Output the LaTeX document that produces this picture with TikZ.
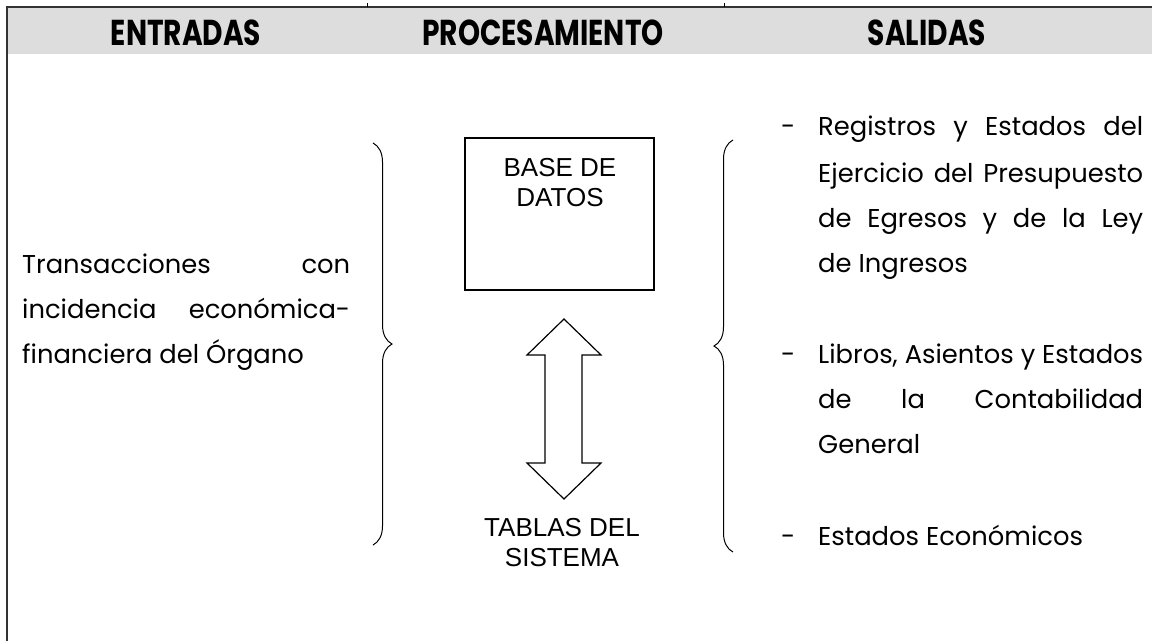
\documentclass[tikz,border=0pt]{standalone}
\usepackage{fontspec}
\setmainfont{Poppins}
\newfontfamily\boxfont{Liberation Sans}
\newfontfamily\headfont[FakeStretch=0.78]{Poppins}
\usetikzlibrary{decorations.pathreplacing}
\definecolor{headgray}{HTML}{DDDDDD}
\begin{document}
\begin{tikzpicture}[x=1pt,y=-1pt,
  bodytext/.style={anchor=base west,inner sep=0pt,font=\fontsize{25.8}{30}\selectfont},
  headtext/.style={anchor=base,inner sep=0pt,font=\headfont\bfseries\fontsize{36}{40}\selectfont},
  boxtext/.style={anchor=base,inner sep=0pt,align=center,font=\boxfont\fontsize{26}{30}\selectfont},
  bracestyle/.style={decorate,decoration={brace,amplitude=19pt,aspect=0.5},line width=1pt},
  frame/.style={line width=1.5pt,black!80}
]
\useasboundingbox (0,0) rectangle (1152,641);
% header band and frame
\fill[headgray] (7,8) rectangle (1152,54);
\draw[frame] (7,641) -- (7,7) -- (1152,7);
\draw[line width=0.8pt] (367,3) -- (367,7);
\draw[line width=0.8pt] (724,3) -- (724,7);
\node[headtext] (hin) at (186,45) {ENTRADAS};
\node[headtext] (hproc) at (543,45) {PROCESAMIENTO};
\node[headtext] (hout) at (927,45) {SALIDAS};
% inputs
\node[bodytext] (in1) at (22,273) {\makebox[328pt][s]{Transacciones con}};
\node[bodytext] (in2) at (22,318) {\makebox[328pt][s]{incidencia económica-}};
\node[bodytext] (in3) at (22,363) {financiera del Órgano};
% braces
\coordinate (lbt) at (373,143);
\coordinate (lbb) at (373,545);
\draw[bracestyle] (lbt) -- (lbb);
\coordinate (rbt) at (733,140);
\coordinate (rbb) at (733,552);
\draw[bracestyle] (rbb) -- (rbt);
% processing
\node[draw,line width=1.3pt,minimum width=189pt,minimum height=152pt,inner sep=0pt] (db) at (559.5,214) {};
\node[boxtext] (dbt1) at (560,176) {BASE DE};
\node[boxtext] (dbt2) at (560,206) {DATOS};
\draw[line width=1.2pt,line join=miter]
  (564,319) -- (601,355) -- (582,355) -- (582,463) -- (601,463) -- (564,499)
  -- (527,463) -- (545,463) -- (545,355) -- (527,355) -- cycle;
\node[boxtext] (tab1) at (562,536) {TABLAS DEL};
\node[boxtext] (tab2) at (562,566) {SISTEMA};
% outputs
\node[bodytext] (d1) at (781,135) {-};
\node[bodytext] (o1a) at (818,135) {\makebox[325pt][s]{Registros y Estados del}};
\node[bodytext] (o1b) at (818,182) {\makebox[325pt][s]{Ejercicio del Presupuesto}};
\node[bodytext] (o1c) at (818,227) {\makebox[325pt][s]{de Egresos y de la Ley}};
\node[bodytext] (o1d) at (818,272) {de Ingresos};
\node[bodytext] (d2) at (781,363) {-};
\node[bodytext] (o2a) at (818,363) {\makebox[325pt][s]{Libros, Asientos y Estados}};
\node[bodytext] (o2b) at (818,408) {\makebox[325pt][s]{de la Contabilidad}};
\node[bodytext] (o2c) at (818,453) {General};
\node[bodytext] (d3) at (781,545) {-};
\node[bodytext] (o3) at (818,545) {Estados Económicos};
\end{tikzpicture}
\end{document}
